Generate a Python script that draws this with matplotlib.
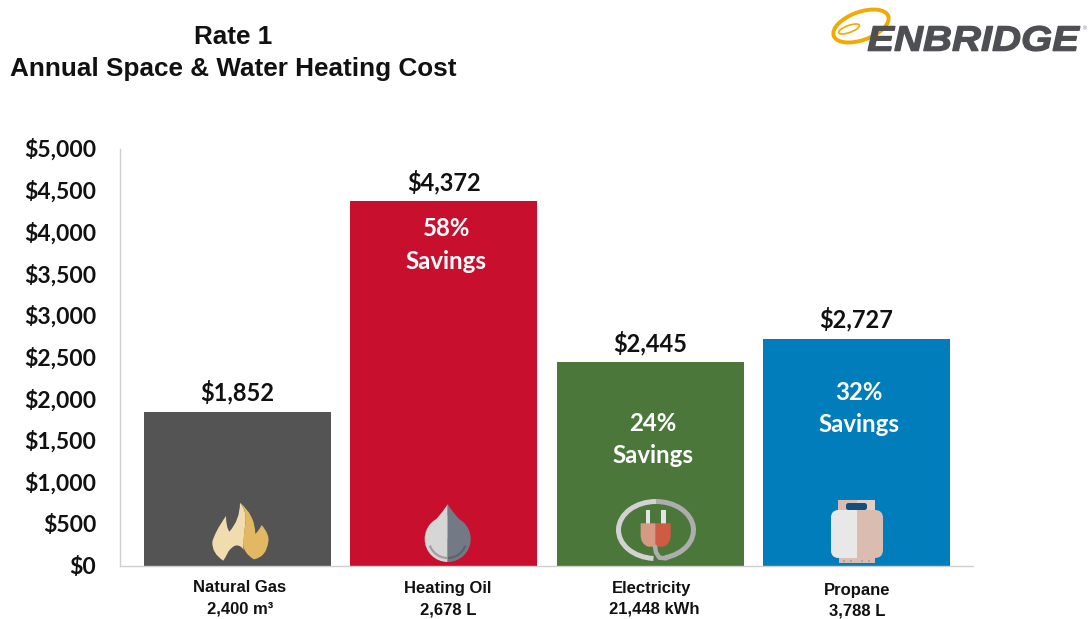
"""
Rate 1 annual space and water heating cost, with icons and logo
"""
import numpy as np
import matplotlib
matplotlib.use('Agg')
import matplotlib.pyplot as plt
from matplotlib.font_manager import FontProperties
from matplotlib.patches import Ellipse, FancyBboxPatch, PathPatch, Rectangle, Arc, Wedge, Circle
from matplotlib.path import Path
from matplotlib.text import TextPath
from matplotlib.transforms import Affine2D, ScaledTranslation

W, H = 1091, 619
LABEL_FONT = ['Lato', 'DejaVu Sans']
HEAD_FONT = ['Liberation Sans', 'DejaVu Sans']

fuels = ['Natural Gas', 'Heating Oil', 'Electricity', 'Propane']
volumes = ['2,400 m³', '2,678 L', '21,448 kWh', '3,788 L']
costs = [1852, 4372, 2445, 2727]
bar_colors = ['#545454', '#C8102E', '#4C773B', '#007DBA']
savings = [None, '58%\nSavings', '24%\nSavings', '32%\nSavings']
savings_y = [None, 3846, 1515, 1890]
yticks = [0, 500, 1000, 1500, 2000, 2500, 3000, 3500, 4000, 4500, 5000]

fig = plt.figure(figsize=(W / 100, H / 100), dpi=100)
ax = fig.add_axes([120 / W, 1 - 566 / H, 853 / W, 417 / H])
x = np.arange(len(fuels))
ax.bar(x, costs, width=0.907, color=bar_colors)
ax.set_xlim(-0.57, 3.565)
ax.set_ylim(0, 5000)
for s in ['top', 'right']:
    ax.spines[s].set_visible(False)
for s in ['left', 'bottom']:
    ax.spines[s].set_color('#cfcfcf')
    ax.spines[s].set_linewidth(1.0)
ax.set_yticks(yticks)
ax.set_yticklabels([f'${v:,}' for v in yticks], family=LABEL_FONT, fontsize=16.5,
                   fontweight='bold', color='#111111')
ax.tick_params(axis='y', length=0, pad=17)
for lab in ax.get_yticklabels():
    lab.set_transform(lab.get_transform() + ScaledTranslation(0, 1 / 100, fig.dpi_scale_trans))
ax.set_xticks(x)
ax.set_xticklabels([])
ax.tick_params(axis='x', length=0)

for i, c in enumerate(costs):
    ax.text(i, c + 80, f'${c:,}', ha='center', va='bottom', family=LABEL_FONT,
            fontsize=17, fontweight='bold', color='#111111')
    if savings[i]:
        ax.text(i + 0.012, savings_y[i], savings[i], ha='center', va='center', family=LABEL_FONT,
                fontsize=17.3, fontweight='bold', color='white', linespacing=1.5)

# category labels sit at slightly uneven places in the original
label_px = [240, 448, 652, 857]
volume_px = [240, 448, 654, 857]
label_py = [588, 589, 588, 590]
for i in range(len(fuels)):
    fig.text(label_px[i] / W, 1 - label_py[i] / H, fuels[i], ha='center', va='center',
             family=HEAD_FONT, fontsize=12, fontweight='bold', color='#111111')
    fig.text(volume_px[i] / W, 1 - (label_py[i] + 21) / H, volumes[i], ha='center', va='center',
             family=HEAD_FONT, fontsize=12, fontweight='bold', color='#111111')

fig.text(233 / W, 1 - 37 / H, 'Rate 1', ha='center', va='center', family=HEAD_FONT,
         fontsize=18.8, fontweight='bold', color='#111111')
fig.text(233 / W, 1 - 69 / H, 'Annual Space & Water Heating Cost', ha='center', va='center',
         family=HEAD_FONT, fontsize=18.8, fontweight='bold', color='#111111')

# overlay in picture pixels for the icons and the logo
ov = fig.add_axes([0, 0, 1, 1], facecolor='none')
ov.set_xlim(0, W)
ov.set_ylim(H, 0)
ov.axis('off')


def curve(start, segs, color, ox, oy):
    # segs: (ctrl, end) gives a quadratic piece, (end,) a straight one
    verts = [start]
    codes = [Path.MOVETO]
    for s in segs:
        verts.extend(s)
        codes.extend([Path.CURVE3, Path.CURVE3] if len(s) == 2 else [Path.LINETO])
    verts = [(ox + a / 3, oy + b / 3) for a, b in verts]
    ov.add_patch(PathPatch(Path(verts, codes), fc=color, ec='none'))


def flame():
    ox, oy = 140, 490
    curve((300, 38), [((322, 65), (316, 100)), ((310, 160),), ((308, 170), (312, 180)),
                      ((290, 150), (265, 185)), ((258, 200), (250, 212)), ((215, 190), (217, 155)),
                      ((225, 125), (258, 78)), ((258, 110), (268, 125)), ((300, 90), (300, 38))],
          '#F0DCAE', ox, oy)
    curve((300, 38), [((345, 75), (346, 132)), ((358, 120), (365, 105)), ((390, 135), (385, 155)),
                      ((380, 200), (342, 208)), ((310, 190), (309, 160)), ((316, 100),),
                      ((322, 65), (300, 38))], '#E2B862', ox, oy)


def drop():
    cx, cy = 140 + 923 / 3, 539
    r = 23
    tip = 490 + 43 / 3
    ov.add_patch(Wedge((cx, cy), r, 90, 270, fc='#D6D6D6', ec='none'))
    ov.add_patch(Wedge((cx, cy), r, 270, 90, fc='#737A85', ec='none'))
    for sgn, col in [(-1, '#D6D6D6'), (1, '#737A85')]:
        pts = [(cx, tip), (cx + sgn * 9, 518), (cx + sgn * 21.2, cy - 9), (cx, cy)]
        ov.add_patch(PathPatch(Path(pts, [Path.MOVETO, Path.CURVE3, Path.CURVE3, Path.LINETO]),
                               fc=col, ec='none'))
    ov.add_patch(Arc((cx, cy), 38, 38, theta1=20, theta2=90, color='#5F646C', lw=1.6))
    ov.add_patch(Arc((cx, cy), 38, 38, theta1=90, theta2=160, color='#A0A0A0', lw=1.6))


def plug():
    ox, oy = 610, 495
    cx, cy = 656, 530
    ov.add_patch(Arc((cx, cy), 75, 57, theta1=95, theta2=270, color='#D2D2D2', lw=3.6))
    ov.add_patch(Arc((cx, cy), 75, 57, theta1=-90, theta2=72, color='#ADADAD', lw=3.6))
    ov.plot([ox + 135 / 3, ox + 138 / 3, ox + 148 / 3, ox + 168 / 3],
            [oy + 155 / 3, oy + 172 / 3, oy + 188 / 3, oy + 190 / 3],
            color='#ADADAD', lw=3.2, solid_capstyle='round')
    ov.add_patch(Rectangle((ox + 107 / 3, oy + 45 / 3), 13 / 3, 42 / 3, fc='#E4E4E4', ec='none'))
    ov.add_patch(Rectangle((ox + 153 / 3, oy + 45 / 3), 14 / 3, 42 / 3, fc='#E4E4E4', ec='none'))
    curve((92, 85), [((137, 85),), ((137, 155),), ((115, 155),), ((92, 148), (92, 120)), ((92, 85),)],
          '#D69A84', ox, oy)
    curve((137, 85), [((182, 85),), ((182, 120),), ((182, 148), (160, 155)), ((137, 155),), ((137, 85),)],
          '#CF5B45', ox, oy)


def tank():
    ov.add_patch(Rectangle((838, 500), 19, 12, fc='#DABCB0', ec='none'))
    ov.add_patch(Rectangle((857, 500), 18, 12, fc='#E3CFC6', ec='none'))
    ov.add_patch(FancyBboxPatch((846, 503), 21, 7, boxstyle='round,pad=0,rounding_size=2.5',
                                fc='#14507E', ec='none'))
    ov.add_patch(Rectangle((839, 556), 36, 7, fc='#DABCB0', ec='none'))
    ov.add_patch(FancyBboxPatch((831, 510), 52, 48, boxstyle='round,pad=0,rounding_size=8',
                                fc='#DABCB0', ec='none'))
    ov.add_patch(FancyBboxPatch((831, 510), 40, 48, boxstyle='round,pad=0,rounding_size=8',
                                fc='#E8E8E8', ec='none'))
    ov.add_patch(Rectangle((857, 510), 14, 48, fc='#DABCB0', ec='none'))
    for px in [844, 851, 862, 869]:
        ov.add_patch(Circle((px, 561), 1, fc='#8FA7B8', ec='none'))


def logo():
    ov.add_patch(Ellipse((861, 26), 58, 28, angle=-20, fc='none', ec='#F2A900', lw=2.8))
    ov.add_patch(Ellipse((849, 29), 22, 7, angle=-20, fc='none', ec='#F2A900', lw=1.2))
    fp = FontProperties(family='Liberation Sans', weight='bold', style='italic')
    tp = TextPath((0, 0), 'ENBRIDGE', size=10, prop=fp)
    bb = tp.get_extents()
    # fit to the logo box; y is flipped in the overlay
    tr = (Affine2D().translate(-bb.x0, -bb.y0)
          .scale(212 / bb.width, -25 / bb.height).translate(868, 51))
    ov.add_patch(PathPatch(tr.transform_path(tp), fc='#4D4F53', ec='#4D4F53', lw=0.9))
    ov.text(1085, 29, '®', ha='center', va='center', family=HEAD_FONT, fontsize=4, color='#777777')


flame()
drop()
plug()
tank()
logo()

fig.savefig('out.png', dpi=100)
